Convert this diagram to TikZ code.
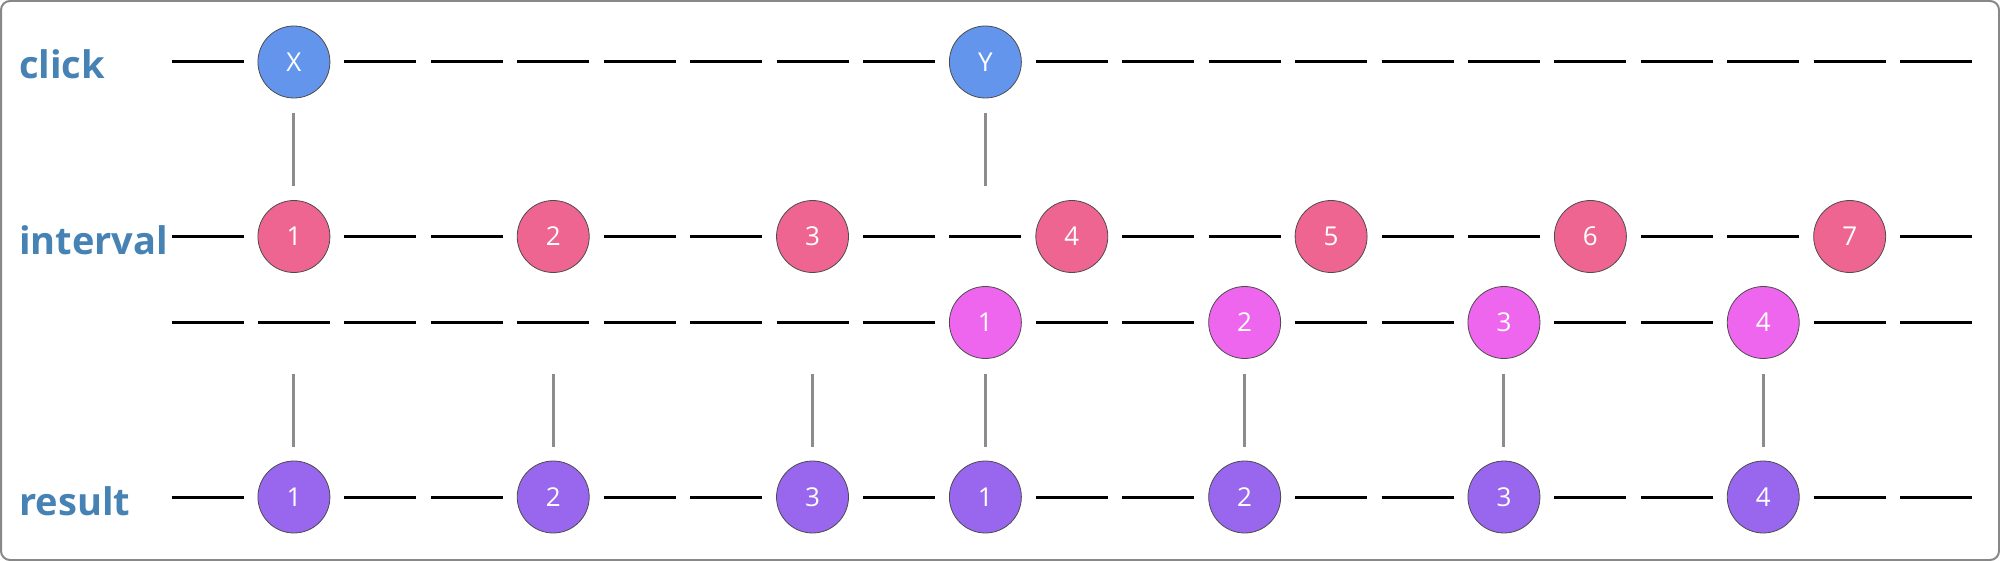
\documentclass[tikz,border=0pt]{standalone}
\usepackage{fontspec}
\setmainfont{Open Sans}
\newfontfamily\labfont{Open Sans}
\definecolor{clickc}{HTML}{6495ED}
\definecolor{intc}{HTML}{EE6592}
\definecolor{innerc}{HTML}{EE66EE}
\definecolor{resc}{HTML}{9966EE}
\definecolor{labc}{HTML}{4682B4}
\definecolor{framec}{HTML}{888888}
\tikzset{
  marble/.style={circle, minimum size=72pt, inner sep=0pt, draw=black!70, line width=0.8pt, text=white, font=\fontsize{26}{26}\selectfont},
  seg/.style={line width=3pt, black},
  link/.style={line width=3pt, color=black!45, shorten <=15pt, shorten >=14pt},
  rowlab/.style={anchor=west, inner sep=0pt, text=labc, font=\labfont\bfseries\fontsize{38}{38}\selectfont}
}
\begin{document}
\begin{tikzpicture}[x=1pt,y=-1pt]
\useasboundingbox (0,0) rectangle (2000,561);
\draw[framec, line width=2pt, rounded corners=9pt] (1,1) rectangle (1999,560);
% row labels
\node[rowlab] (lclick) at (19,64) {click};
\node[rowlab] (linterval) at (19,240) {interval};
\node[rowlab] (lresult) at (19,501) {result};
% dashes
\foreach \k in {0,2,3,4,5,6,7,8,10,11,12,13,14,15,16,17,18,19,20}
  \draw[seg] ({207.5+86.43*\k-36},62) -- ({207.5+86.43*\k+36},62);
\foreach \k in {0,2,3,5,6,8,9,11,12,14,15,17,18,20}
  \draw[seg] ({207.5+86.43*\k-36},236.5) -- ({207.5+86.43*\k+36},236.5);
\foreach \k in {0,1,2,3,4,5,6,7,8,10,11,13,14,16,17,19,20}
  \draw[seg] ({207.5+86.43*\k-36},322.5) -- ({207.5+86.43*\k+36},322.5);
\foreach \k in {0,2,3,5,6,8,10,11,13,14,16,17,19,20}
  \draw[seg] ({207.5+86.43*\k-36},497) -- ({207.5+86.43*\k+36},497);
% click marbles
\node[marble, fill=clickc] (cx) at ({207.5+86.43*1},62) {X};
\node[marble, fill=clickc] (cy) at ({207.5+86.43*9},62) {Y};
% interval marbles
\foreach \n/\k in {1/1,2/4,3/7,4/10,5/13,6/16,7/19}
  \node[marble, fill=intc] (i\n) at ({207.5+86.43*\k},236.5) {\n};
% inner interval marbles
\foreach \n/\k in {1/9,2/12,3/15,4/18}
  \node[marble, fill=innerc] (j\n) at ({207.5+86.43*\k},322.5) {\n};
% coordinates for free link ends
\coordinate (yb) at ({207.5+86.43*9},236.5);
\foreach \n/\k in {1/1,2/4,3/7}
  \coordinate (ja\n) at ({207.5+86.43*\k},322.5);
% result marbles
\foreach \n/\k in {1/1,2/4,3/7}
  \node[marble, fill=resc] (ra\n) at ({207.5+86.43*\k},497) {\n};
\foreach \n/\k in {1/9,2/12,3/15,4/18}
  \node[marble, fill=resc] (rb\n) at ({207.5+86.43*\k},497) {\n};
% links
\draw[link] (cx) -- (i1);
\draw[link, shorten >=50.5pt] (cy) -- (yb);
\foreach \n in {1,2,3}
  \draw[link, shorten <=51.5pt] (ja\n) -- (ra\n);
\foreach \n in {1,2,3,4}
  \draw[link] (j\n) -- (rb\n);
\end{tikzpicture}
\end{document}
